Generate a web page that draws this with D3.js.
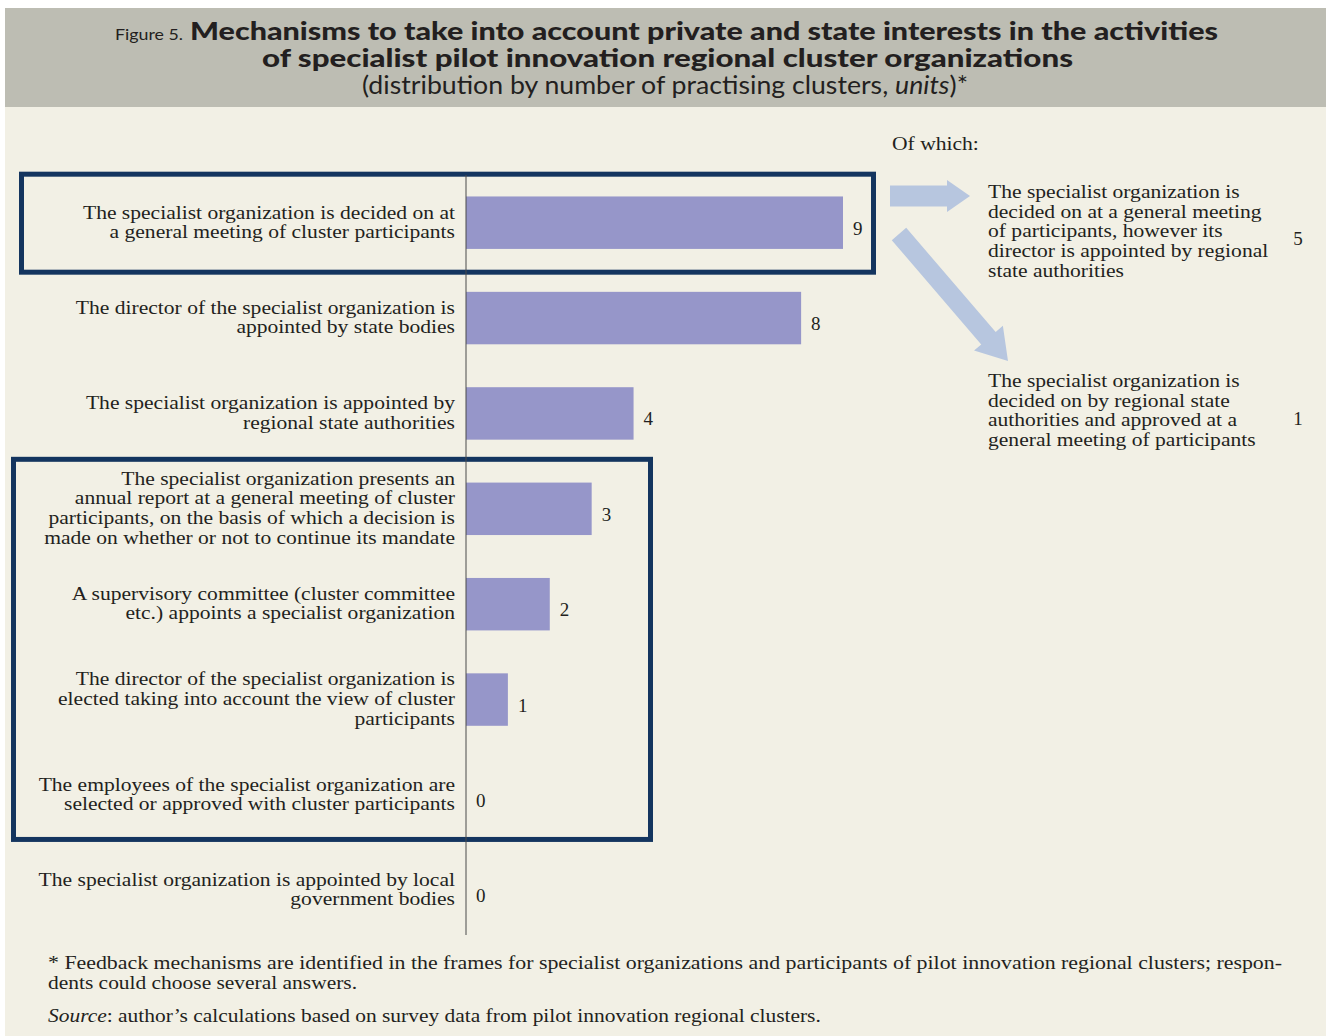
<!DOCTYPE html>
<html>
<head>
<meta charset="utf-8">
<script src="https://cdn.jsdelivr.net/npm/d3@7"></script>
<style>
  html, body { margin: 0; padding: 0; background: #ffffff; }
  svg { display: block; }
</style>
</head>
<body>
<div id="chart"></div>
<script>
// main bars: label lines + number of practising clusters
const categories = [
  ["The specialist organization is decided on at", "a general meeting of cluster participants"],
  ["The director of the specialist organization is", "appointed by state bodies"],
  ["The specialist organization is appointed by", "regional state authorities"],
  ["The specialist organization presents an", "annual report at a general meeting of cluster", "participants, on the basis of which a decision is", "made on whether or not to continue its mandate"],
  ["A supervisory committee (cluster committee", "etc.) appoints a specialist organization"],
  ["The director of the specialist organization is", "elected taking into account the view of cluster", "participants"],
  ["The employees of the specialist organization are", "selected or approved with cluster participants"],
  ["The specialist organization is appointed by local", "government bodies"],
];
const values = [9, 8, 4, 3, 2, 1, 0, 0];

// "Of which:" breakdown of the first bar
const subCategories = [
  ["The specialist organization is", "decided on at a general meeting", "of participants, however its", "director is appointed by regional", "state authorities"],
  ["The specialist organization is", "decided on by regional state", "authorities and approved at a", "general meeting of participants"],
];
const subValues = [5, 1];

const W = 1326, H = 1036;
const SERIF = "'Liberation Serif', 'DejaVu Serif', serif";
const SANS = "Lato, 'Open Sans', sans-serif";
const INK = "#231f20";
const WIDEN = 1.107; // serif in the original runs wider than Liberation Serif

const svg = d3.select("#chart").append("svg")
  .attr("width", W).attr("height", H);

// backgrounds
svg.append("rect").attr("x", 5).attr("y", 107).attr("width", W - 5).attr("height", H - 107).attr("fill", "#f2f0e5");
svg.append("rect").attr("x", 5).attr("y", 8).attr("width", W - 5).attr("height", 99).attr("fill", "#bdbdb3");

// title
const t1 = svg.append("text").attr("y", 40).attr("fill", INK).attr("font-family", SANS);
t1.append("tspan").attr("x", 115).attr("font-size", 15)
  .attr("textLength", 68).attr("lengthAdjust", "spacingAndGlyphs").text("Figure 5.");
t1.append("tspan").attr("x", 190).attr("font-size", 25.5).attr("font-weight", 900)
  .attr("textLength", 1028).attr("lengthAdjust", "spacingAndGlyphs")
  .text("Mechanisms to take into account private and state interests in the activities");
svg.append("text").attr("x", 262).attr("y", 67).attr("fill", INK).attr("font-family", SANS)
  .attr("font-size", 25.5).attr("font-weight", 900)
  .attr("textLength", 811).attr("lengthAdjust", "spacingAndGlyphs")
  .text("of specialist pilot innovation regional cluster organizations");
const t3 = svg.append("text").attr("x", 362).attr("y", 94).attr("fill", INK).attr("font-family", SANS)
  .attr("font-size", 25)
  .attr("textLength", 606).attr("lengthAdjust", "spacingAndGlyphs");
t3.append("tspan").text("(distribution by number of practising clusters, ");
t3.append("tspan").attr("font-style", "italic").text("units");
t3.append("tspan").text(")*");

// scales
const x = d3.scaleLinear().domain([0, 9]).range([466, 843]);
const y = d3.scaleBand().domain(d3.range(values.length)).range([175, 938]).paddingInner(0.45).paddingOuter(0.225);
const cy = i => y(i) + y.bandwidth() / 2;

// highlight boxes
const boxes = [
  { x0: 21.5, x1: 873.5, top: cy(0) - 48.5, bottom: cy(0) + 49.5 },
  { x0: 13.5, x1: 650.5, top: cy(3) - 49.5, bottom: cy(6) + 44.5 },
];
svg.append("g").selectAll("rect").data(boxes).join("rect")
  .attr("x", d => d.x0).attr("y", d => d.top)
  .attr("width", d => d.x1 - d.x0).attr("height", d => d.bottom - d.top)
  .attr("fill", "none").attr("stroke", "#14355f").attr("stroke-width", 5);

// bars
svg.append("g").selectAll("rect").data(values).join("rect")
  .attr("x", x(0)).attr("y", (d, i) => y(i))
  .attr("width", d => x(d) - x(0)).attr("height", y.bandwidth())
  .attr("fill", "#9696c9");

// axis line
svg.append("line").attr("x1", x(0)).attr("x2", x(0)).attr("y1", 175).attr("y2", 935)
  .attr("stroke", "#4a4a4a").attr("stroke-width", 1);

// category labels
const labels = svg.append("g").attr("transform", `translate(455,0) scale(${WIDEN},1)`)
  .attr("font-family", SERIF).attr("font-size", 19.5).attr("fill", INK).attr("text-anchor", "end");
categories.forEach((lines, i) => {
  const lh = lines.length > 2 ? 19.8 : 19.2;
  const t = labels.append("text");
  const first = cy(i) + 5.5 - (lines.length - 1) * lh / 2;
  lines.forEach((ln, k) => t.append("tspan").attr("x", 0).attr("y", first + k * lh).text(ln));
});

// value labels
svg.append("g").selectAll("text").data(values).join("text")
  .attr("x", d => x(d) + 10).attr("y", (d, i) => cy(i) + 12)
  .attr("font-family", SERIF).attr("font-size", 19).attr("fill", INK)
  .text(d => d);

// "Of which" breakdown
const sub = svg.append("g").attr("transform", `translate(988,0) scale(${WIDEN},1)`)
  .attr("font-family", SERIF).attr("font-size", 19.5).attr("fill", INK);
sub.append("text").attr("x", (892 - 988) / WIDEN).attr("y", 150).text("Of which:");
const subTop = [198, 387];
subCategories.forEach((lines, i) => {
  const t = sub.append("text");
  lines.forEach((ln, k) => t.append("tspan").attr("x", 0).attr("y", subTop[i] + k * 19.7).text(ln));
});
svg.append("g").selectAll("text").data(subValues).join("text")
  .attr("x", 1298).attr("text-anchor", "middle")
  .attr("y", (d, i) => subTop[i] + (subCategories[i].length - 1) * 19.7 / 2 + 8)
  .attr("font-family", SERIF).attr("font-size", 19).attr("fill", INK)
  .text(d => d);

// arrows
function arrow(x0, y0, x1, y1, hw, headW, headL) {
  const dx = x1 - x0, dy = y1 - y0, len = Math.hypot(dx, dy);
  const ux = dx / len, uy = dy / len, nx = -uy, ny = ux;
  const bx = x1 - ux * headL, by = y1 - uy * headL;
  const p = [
    [x0 + nx * hw, y0 + ny * hw], [bx + nx * hw, by + ny * hw], [bx + nx * headW, by + ny * headW],
    [x1, y1],
    [bx - nx * headW, by - ny * headW], [bx - nx * hw, by - ny * hw], [x0 - nx * hw, y0 - ny * hw],
  ];
  return "M" + p.map(q => q.join(",")).join("L") + "Z";
}
const arrows = [
  arrow(890, 196, 970, 196, 10.5, 16, 23),
  arrow(899, 234, 1008, 361, 9.5, 19, 30),
];
svg.append("g").selectAll("path").data(arrows).join("path")
  .attr("d", d => d).attr("fill", "#b7c6df");

// footnotes
const FW = 1.16;
const foot = svg.append("g").attr("transform", `translate(48,0) scale(${FW},1)`)
  .attr("font-family", SERIF).attr("font-size", 18.5).attr("fill", INK);
foot.append("text").attr("x", 0).attr("y", 969)
  .attr("textLength", 1234 / FW).attr("lengthAdjust", "spacingAndGlyphs")
  .text("* Feedback mechanisms are identified in the frames for specialist organizations and participants of pilot innovation regional clusters; respon-");
foot.append("text").attr("x", 0).attr("y", 989).text("dents could choose several answers.");
const src = foot.append("text").attr("x", 0).attr("y", 1022);
src.append("tspan").attr("font-style", "italic").text("Source");
src.append("tspan").text(": author\u2019s calculations based on survey data from pilot innovation regional clusters.");
</script>
</body>
</html>
